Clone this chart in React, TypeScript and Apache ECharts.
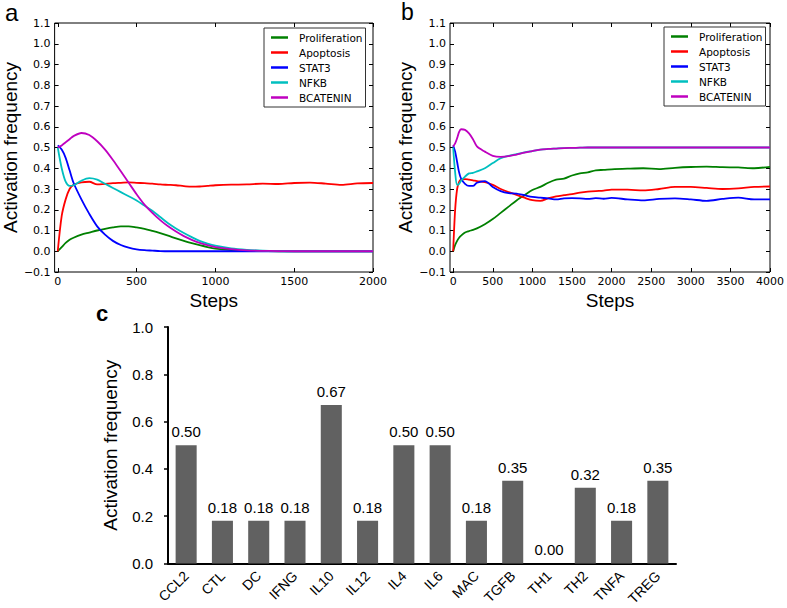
import React, { useEffect, useRef } from "react";
import * as echarts from "echarts";

const seriesNames = ["Proliferation", "Apoptosis", "STAT3", "NFKB", "BCATENIN"];
const seriesColors = ["#008000", "#ff0000", "#0000ff", "#00bfbf", "#bf00bf"];

// Panel a
const stepsA = [0, 25, 50, 75, 100, 150, 200, 250, 300, 350, 400, 450, 500, 550, 600, 650, 700, 750, 800, 850, 900, 950, 1000, 1100, 1200, 1300, 1400, 1500, 1600, 1700, 1800, 1900, 2000];
const prolifA = [0, 0.02, 0.04, 0.055, 0.065, 0.08, 0.09, 0.1, 0.108, 0.115, 0.12, 0.12, 0.115, 0.108, 0.098, 0.087, 0.075, 0.062, 0.05, 0.039, 0.029, 0.02, 0.013, 0.006, 0.002, 0.001, 0, 0, 0, 0, 0, 0, 0];
const apopA = [0, 0.17, 0.25, 0.3, 0.32, 0.332, 0.335, 0.322, 0.325, 0.328, 0.33, 0.332, 0.33, 0.328, 0.326, 0.322, 0.32, 0.318, 0.314, 0.311, 0.312, 0.315, 0.318, 0.321, 0.322, 0.326, 0.324, 0.329, 0.331, 0.326, 0.32, 0.327, 0.329];
const stat3A = [0.51, 0.49, 0.45, 0.39, 0.33, 0.25, 0.18, 0.12, 0.08, 0.05, 0.03, 0.017, 0.009, 0.005, 0.003, 0.001, 0, 0, 0, 0, 0, 0, 0, 0, 0, 0, 0, 0, 0, 0, 0, 0, 0];
const nfkbA = [0.5, 0.4, 0.335, 0.315, 0.318, 0.34, 0.352, 0.345, 0.325, 0.305, 0.285, 0.265, 0.245, 0.22, 0.195, 0.165, 0.135, 0.11, 0.088, 0.068, 0.05, 0.037, 0.027, 0.014, 0.007, 0.003, 0.001, 0, 0, 0, 0, 0, 0];
const bcatA = [0.5, 0.51, 0.525, 0.54, 0.555, 0.57, 0.56, 0.53, 0.49, 0.44, 0.385, 0.33, 0.275, 0.225, 0.185, 0.15, 0.12, 0.095, 0.073, 0.055, 0.04, 0.029, 0.02, 0.01, 0.004, 0.002, 0.001, 0, 0, 0, 0, 0, 0];

// Panel b
const stepsB = [0, 25, 50, 75, 100, 150, 200, 250, 300, 400, 500, 600, 700, 800, 900, 1000, 1100, 1200, 1300, 1400, 1500, 1600, 1700, 1800, 1900, 2000, 2200, 2400, 2600, 2800, 3000, 3200, 3400, 3600, 3800, 4000];
const prolifB = [0, 0.03, 0.05, 0.065, 0.075, 0.09, 0.097, 0.103, 0.11, 0.13, 0.155, 0.185, 0.215, 0.245, 0.27, 0.295, 0.31, 0.33, 0.345, 0.35, 0.365, 0.375, 0.38, 0.39, 0.392, 0.395, 0.398, 0.4, 0.396, 0.402, 0.406, 0.408, 0.405, 0.404, 0.4, 0.407];
const apopB = [0, 0.2, 0.3, 0.335, 0.345, 0.348, 0.345, 0.342, 0.338, 0.333, 0.32, 0.3, 0.285, 0.272, 0.258, 0.246, 0.243, 0.255, 0.265, 0.27, 0.275, 0.282, 0.287, 0.29, 0.292, 0.297, 0.297, 0.293, 0.3, 0.31, 0.31, 0.305, 0.3, 0.303, 0.31, 0.312];
const stat3B = [0.51, 0.48, 0.43, 0.38, 0.35, 0.325, 0.315, 0.315, 0.33, 0.338, 0.31, 0.29, 0.28, 0.278, 0.27, 0.262, 0.258, 0.255, 0.25, 0.255, 0.256, 0.255, 0.252, 0.256, 0.253, 0.257, 0.25, 0.245, 0.252, 0.255, 0.25, 0.243, 0.252, 0.258, 0.25, 0.25];
const nfkbB = [0.5, 0.38, 0.32, 0.325, 0.34, 0.36, 0.375, 0.378, 0.385, 0.4, 0.425, 0.448, 0.46, 0.468, 0.476, 0.483, 0.49, 0.493, 0.495, 0.497, 0.498, 0.499, 0.5, 0.5, 0.5, 0.5, 0.5, 0.5, 0.5, 0.5, 0.5, 0.5, 0.5, 0.5, 0.5, 0.5];
const bcatB = [0.505, 0.52, 0.545, 0.575, 0.588, 0.585, 0.568, 0.54, 0.505, 0.48, 0.46, 0.455, 0.458, 0.466, 0.475, 0.483, 0.49, 0.493, 0.495, 0.497, 0.498, 0.499, 0.5, 0.5, 0.5, 0.5, 0.5, 0.5, 0.5, 0.5, 0.5, 0.5, 0.5, 0.5, 0.5, 0.5];

const ticksA = [0, 500, 1000, 1500, 2000];
const ticksB = [0, 500, 1000, 1500, 2000, 2500, 3000, 3500, 4000];

// Panel c
const categoriesC = ["CCL2", "CTL", "DC", "IFNG", "IL10", "IL12", "IL4", "IL6", "MAC", "TGFB", "TH1", "TH2", "TNFA", "TREG"];
const valuesC = [0.5, 0.18, 0.18, 0.18, 0.67, 0.18, 0.5, 0.5, 0.18, 0.35, 0.0, 0.32, 0.18, 0.35];

const tickFont = { fontFamily: "DejaVu Sans", fontSize: 11, color: "#000" };
const titleFont = { fontFamily: "Liberation Sans", fontSize: 19, color: "#000" };
const fmtY = (v: number) => v.toFixed(1).replace("-", "\u2212");

function lineAxes(gridIndex: number, xmin: number, xmax: number, ticks: number[]) {
  const tick = { show: true, inside: true, length: 4, lineStyle: { color: "#000" } };
  const xs = [
    {
      type: "value", gridIndex, min: xmin, max: xmax, position: "bottom",
      axisLine: { show: false, onZero: false },
      axisTick: { ...tick, customValues: ticks },
      axisLabel: { ...tickFont, margin: 4, customValues: ticks, formatter: (v: number) => String(v) },
      splitLine: { show: false },
      name: "Steps", nameLocation: "middle", nameGap: 19, nameTextStyle: titleFont,
    },
    {
      type: "value", gridIndex, min: xmin, max: xmax, position: "top",
      axisLine: { show: false, onZero: false },
      axisTick: { ...tick, customValues: ticks },
      axisLabel: { show: false, customValues: ticks },
      splitLine: { show: false },
    },
  ];
  const ys = [
    {
      type: "value", gridIndex, min: -0.1, max: 1.1, interval: 0.1, position: "left",
      axisLine: { show: false, onZero: false },
      axisTick: tick,
      axisLabel: { ...tickFont, margin: 4, formatter: fmtY },
      splitLine: { show: false },
      name: "Activation frequency", nameLocation: "middle", nameGap: 30, nameTextStyle: titleFont,
    },
    {
      type: "value", gridIndex, min: -0.1, max: 1.1, interval: 0.1, position: "right",
      axisLine: { show: false, onZero: false },
      axisTick: tick,
      axisLabel: { show: false },
      splitLine: { show: false },
    },
  ];
  return { xs, ys };
}

function lineSeries(steps: number[], data: number[][], xAxisIndex: number, yAxisIndex: number) {
  return data.map((vals, i) => ({
    type: "line",
    name: seriesNames[i],
    xAxisIndex,
    yAxisIndex,
    data: steps.map((s, j) => [s, vals[j]]),
    showSymbol: false,
    smooth: 0.3,
    lineStyle: { color: seriesColors[i], width: 1.8 },
    itemStyle: { color: seriesColors[i] },
    z: 2 + i,
  }));
}

function legendAt(left: number, top: number) {
  return {
    data: seriesNames,
    orient: "vertical",
    left, top,
    padding: [3, 3, 3, 7],
    itemWidth: 17,
    itemHeight: 2.5,
    icon: "rect",
    itemGap: 2,
    borderColor: "#333",
    borderWidth: 1,
    selectedMode: false,
    textStyle: { fontFamily: "DejaVu Sans", fontSize: 10.5, lineHeight: 13, color: "#000", padding: [0, 0, 0, 6] },
  };
}

export default function App() {
  const ref = useRef<HTMLDivElement>(null);
  useEffect(() => {
    if (!ref.current) return;
    const chart = echarts.init(ref.current, undefined, { renderer: "svg" });
    const a = lineAxes(0, -20, 2000, ticksA);
    const b = lineAxes(1, -40, 4000, ticksB);
    const option = {
      animation: false,
      backgroundColor: "#fff",
      grid: [
        { left: 50, top: 23, width: 323, height: 249, show: true, borderColor: "#000", borderWidth: 1, backgroundColor: "transparent" },
        { left: 450, top: 23, width: 323, height: 249, show: true, borderColor: "#000", borderWidth: 1, backgroundColor: "transparent" },
        { left: 168, top: 327, width: 508, height: 238 },
      ],
      xAxis: [
        ...a.xs,
        ...b.xs,
        {
          type: "category", gridIndex: 2, data: categoriesC,
          axisLine: { lineStyle: { color: "#000", width: 2 } },
          axisTick: { show: false },
          axisLabel: { rotate: 45, fontFamily: "Liberation Sans", fontSize: 14, color: "#000", margin: 10 },
        },
      ],
      yAxis: [
        ...a.ys,
        ...b.ys,
        {
          type: "value", gridIndex: 2, min: 0, max: 1, interval: 0.2,
          axisLine: { show: true, onZero: false, lineStyle: { color: "#000", width: 2 } },
          axisTick: { show: true, length: 4, lineStyle: { color: "#000", width: 1.5 } },
          axisLabel: { fontFamily: "Liberation Sans", fontSize: 15, color: "#000", margin: 15, formatter: (v: number) => v.toFixed(1) },
          splitLine: { show: false },
          name: "Activation frequency", nameLocation: "middle", nameGap: 48, nameTextStyle: titleFont,
        },
      ],
      legend: [legendAt(264, 28), legendAt(664, 27)],
      series: [
        ...lineSeries(stepsA, [prolifA, apopA, stat3A, nfkbA, bcatA], 0, 0),
        ...lineSeries(stepsB, [prolifB, apopB, stat3B, nfkbB, bcatB], 2, 2),
        {
          type: "bar", xAxisIndex: 4, yAxisIndex: 4,
          data: valuesC,
          barWidth: "58%",
          itemStyle: { color: "#616161" },
          label: {
            show: true, position: "top", distance: 6,
            fontFamily: "Liberation Sans", fontSize: 15, color: "#000",
            formatter: (p: any) => Number(p.value).toFixed(2),
          },
        },
      ],
      graphic: [
        { type: "text", left: 5, top: 0, style: { text: "a", fontFamily: "Liberation Sans", fontSize: 24, fill: "#000" } },
        { type: "text", left: 401, top: 0, style: { text: "b", fontFamily: "Liberation Sans", fontSize: 23, fill: "#000" } },
        { type: "text", left: 96, top: 302, style: { text: "c", fontFamily: "Liberation Sans", fontSize: 22, fontWeight: "bold", fill: "#000" } },
      ],
    };
    chart.setOption(option as any);
    return () => chart.dispose();
  }, []);
  return <div ref={ref} style={{ position: "fixed", left: 0, top: 0, width: 787, height: 608, background: "#fff" }} />;
}
